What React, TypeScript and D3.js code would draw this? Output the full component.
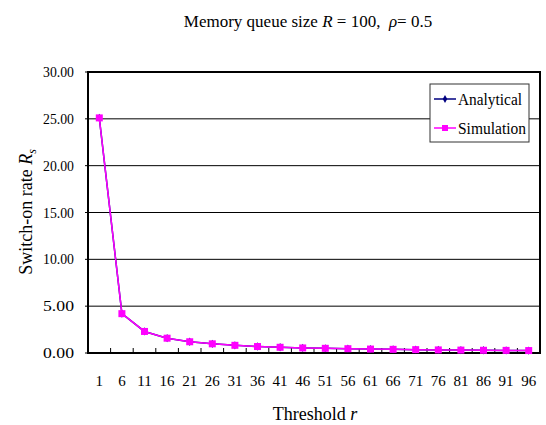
import React from 'react';
import * as d3 from 'd3';

const thresholds = ['1', '6', '11', '16', '21', '26', '31', '36', '41', '46', '51', '56', '61', '66', '71', '76', '81', '86', '91', '96'];
const analytical = [25.1, 4.2, 2.3, 1.58, 1.2, 0.98, 0.82, 0.69, 0.61, 0.54, 0.5, 0.46, 0.42, 0.39, 0.36, 0.33, 0.31, 0.29, 0.28, 0.26];
const simulation = [25.1, 4.2, 2.3, 1.58, 1.2, 0.98, 0.82, 0.69, 0.61, 0.54, 0.5, 0.46, 0.42, 0.39, 0.36, 0.33, 0.31, 0.29, 0.28, 0.26];
const yTicks = [0, 5, 10, 15, 20, 25, 30];

const FONT = 'Liberation Serif';

const width = 546;
const height = 425;
const left = 88, right = 540, top = 72, bottom = 353;

const App: React.FC = () => {
    const x = d3.scaleBand().domain(thresholds).range([left, right]);
    const y = d3.scaleLinear().domain([0, 30]).range([bottom, top]);
    const cx = (d: string) => x(d)! + x.bandwidth() / 2;

    const line = d3.line<number>()
        .x((_, i) => cx(thresholds[i]))
        .y(d => y(d));
    const diamond = d3.symbol().type(d3.symbolDiamond).size(20)()!;
    const legendDiamond = d3.symbol().type(d3.symbolDiamond).size(18)()!;

    const legend = [
        { name: 'Analytical', color: '#000080', yy: 99, len: 64 },
        { name: 'Simulation', color: '#ff00ff', yy: 128, len: 68 },
    ];

    return (
        <svg width={width} height={height} fontFamily={FONT}
            style={{ position: 'absolute', left: 0, top: 0, background: '#fff' }}>
            {/* title */}
            <text x={308} y={27} textAnchor="middle" fontSize={17} fontFamily={FONT}>
                <tspan>Memory queue size </tspan>
                <tspan fontStyle="italic">R</tspan>
                <tspan>{' = 100,\u00a0\u00a0'}</tspan>
                <tspan fontStyle="italic">ρ</tspan>
                <tspan>= 0.5</tspan>
            </text>

            {/* gridlines */}
            {yTicks.filter(t => t > 0 && t < 30).map(t => (
                <line key={t} x1={left} x2={right} y1={y(t)} y2={y(t)} stroke="#000" strokeWidth={1} />
            ))}

            {/* y axis */}
            {yTicks.map(t => (
                <g key={t}>
                    <line x1={left - 3} x2={left} y1={y(t)} y2={y(t)} stroke="#000" />
                    <text x={74} y={y(t) + 5} textAnchor="end" fontSize={15} fontFamily={FONT}
                        textLength={31} lengthAdjust="spacingAndGlyphs">{t.toFixed(2)}</text>
                </g>
            ))}

            {/* x inner ticks at category boundaries */}
            {thresholds.slice(1).map(d => (
                <line key={d} x1={x(d)!} x2={x(d)!} y1={bottom} y2={bottom - 5} stroke="#000" />
            ))}

            {/* x labels */}
            {thresholds.map(d => (
                <text key={d} x={cx(d)} y={386} textAnchor="middle" fontSize={15} fontFamily={FONT}>{d}</text>
            ))}

            {/* frame */}
            <rect x={left} y={top} width={right - left} height={bottom - top}
                fill="none" stroke="#000" strokeWidth={2} />

            {/* analytical, drawn underneath */}
            <path d={line(analytical)!} fill="none" stroke="#000080" strokeWidth={1.5} />
            {analytical.map((v, i) => (
                <path key={i} d={diamond} transform={`translate(${cx(thresholds[i])},${y(v)})`} fill="#000080" />
            ))}

            {/* simulation */}
            <path d={line(simulation)!} fill="none" stroke="#ff00ff" strokeWidth={1.5} />
            {simulation.map((v, i) => (
                <rect key={i} x={cx(thresholds[i]) - 3.5} y={y(v) - 3.5} width={7} height={7} fill="#ff00ff" />
            ))}

            {/* legend */}
            <rect x={430} y={84} width={99} height={58} fill="#fff" stroke="#333" strokeWidth={1} />
            {legend.map(it => (
                <g key={it.name}>
                    <line x1={434} x2={456} y1={it.yy} y2={it.yy} stroke={it.color} strokeWidth={1.5} />
                    {it.name === 'Analytical'
                        ? <path d={legendDiamond} transform={`translate(445,${it.yy})`} fill={it.color} />
                        : <rect x={442} y={it.yy - 3} width={6} height={6} fill={it.color} />}
                    <text x={458} y={it.yy + 6} fontSize={16} fontFamily={FONT}
                        textLength={it.len} lengthAdjust="spacingAndGlyphs">{it.name}</text>
                </g>
            ))}

            {/* y axis title */}
            <text transform="translate(32,212) rotate(-90)" textAnchor="middle" fontSize={18} fontFamily={FONT}>
                <tspan>Switch-on rate </tspan>
                <tspan fontStyle="italic">R</tspan>
                <tspan fontStyle="italic" fontSize={12} dy={4}>s</tspan>
            </text>

            {/* x axis title */}
            <text x={315} y={420} textAnchor="middle" fontSize={18} fontFamily={FONT}>
                <tspan>Threshold </tspan>
                <tspan fontStyle="italic">r</tspan>
            </text>
        </svg>
    );
};

export default App;
